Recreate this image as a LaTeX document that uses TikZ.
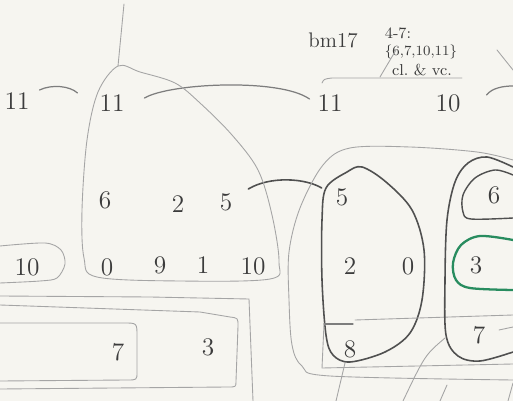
\documentclass[tikz,border=0pt]{standalone}
\usetikzlibrary{positioning}
\definecolor{paper}{RGB}{246,245,240}
\definecolor{pencildark}{RGB}{80,80,80}
\definecolor{pencilmid}{RGB}{125,125,125}
\definecolor{pencilfaint}{RGB}{165,165,165}
\definecolor{digitgray}{RGB}{60,60,60}
\definecolor{markgreen}{RGB}{40,140,95}

\tikzset{
  digit/.style={inner sep=1pt,text=digitgray,font=\Large},
  note/.style={inner sep=1pt,text=digitgray,font=\small},
  faintline/.style={draw=pencilfaint,line width=0.5pt,line cap=round},
  midline/.style={draw=pencilmid,line width=0.7pt,line cap=round},
  darkline/.style={draw=pencildark,line width=0.9pt,line cap=round},
  greenline/.style={draw=markgreen,line width=1.3pt},
}

\begin{document}
\begin{tikzpicture}[x=0.02cm,y=-0.02cm]
  \fill[paper] (0,0) rectangle (513,401);
  \useasboundingbox (0,0) rectangle (513,401);

  % top row
  \node[digit] (elevA) at (17,101) {11};
  \node[digit] (elevB) at (112,103) {11};
  \node[digit] (elevC) at (330,103) {11};
  \node[digit] (tenA) at (448,103) {10};

  % notes above the bracket
  \node[note,font=\large] (measure) at (333,40) {bm17};
  \node[note] (setname) at (398,33) {4-7:};
  \node[note,font=\footnotesize] (setpcs) at (421,52) {\{6,7,10,11\}};
  \node[note] (instr) at (422,70) {cl.\ \& vc.};

  % left cluster
  \node[digit] (sixA) at (105,200) {6};
  \node[digit] (twoA) at (178,204) {2};
  \node[digit] (fiveA) at (226,202) {5};
  \node[digit] (zeroA) at (107,267) {0};
  \node[digit] (nineA) at (160,265) {9};
  \node[digit] (oneA) at (203,265) {1};
  \node[digit] (tenB) at (253,266) {10};
  \node[digit] (tenL) at (27,267) {10};
  \node[digit] (sevenA) at (118,352) {7};
  \node[digit] (threeA) at (208,347) {3};

  % right cluster
  \node[digit] (fiveB) at (342,197) {5};
  \node[digit] (twoB) at (350,266) {2};
  \node[digit] (zeroB) at (408,266) {0};
  \node[digit] (eightB) at (350,349) {8};
  \node[digit] (sixB) at (494,195) {6};
  \node[digit] (threeB) at (476,265) {3};
  \node[digit] (sevenB) at (479,335) {7};

  % slurs between the elevens and the fives
  \draw[midline] ([shift={(8,-11)}]elevA.east) .. controls (52,84) and (70,86) .. ([shift={(-20,-10)}]elevB.west);
  \draw[midline] ([shift={(18,-5)}]elevB.east) .. controls (170,83) and (280,78) .. ([shift={(-6,-4)}]elevC.west);
  \coordinate (edgeR) at (513,86);
  \draw[midline] ([shift={(24,-8)}]tenA.east) .. controls (492,88) and (503,86) .. (edgeR);
  \draw[darkline] ([shift={(14,-13)}]fiveA.east) .. controls (270,176) and (305,178) .. ([shift={(-12,-9)}]fiveB.west);

  % bracket and ticks
  \draw[faintline] (322,83) .. controls (324,79) .. (332,78) -- (462,78);
  \draw[faintline] (380,77) -- (396,50);
  \draw[faintline] (497,50) -- (513,70);

  % big region round the left cluster
  \draw[faintline] (124,4) -- (118,66);
  \draw[faintline] plot[smooth cycle,tension=0.55] coordinates {
    (118,66) (98,92) (87,140) (82,210) (84,258) (97,277) (180,281)
    (270,279) (279,262) (272,215) (258,170) (232,135) (200,103) (175,83) (140,72)};

  % box round the left 10
  \draw[faintline] plot[smooth,tension=0.5] coordinates {
    (0,246) (45,243) (61,250) (65,264) (57,278) (40,281) (0,283)};

  % nested boxes at the lower left
  \draw[faintline] (0,296) -- (150,297) -- (249,299) -- (253,401);
  \draw[faintline] (0,305) -- (200,312) -- (230,317) .. controls (238,318) .. (238,326)
    -- (236,381) .. controls (236,387) .. (228,387) -- (0,389);
  \draw[faintline] (0,323) -- (124,323) .. controls (137,323) .. (137,336)
    -- (137,372) .. controls (137,380) .. (127,380) -- (0,381);

  % faint region round the right cluster
  \draw[faintline] plot[smooth,tension=0.55] coordinates {
    (513,380) (330,376) (302,366) (292,345) (289,300) (289,252) (300,208)
    (323,165) (350,148) (410,147) (477,152) (513,160)};

  % dark region round 5, 2, 0, 8
  \draw[darkline] plot[smooth cycle,tension=0.55] coordinates {
    (347,172) (362,167) (386,182) (412,210) (424,250) (422,300) (410,333)
    (385,352) (350,362) (333,355) (326,335) (322,280) (322,220) (326,188)};

  % box round the 8 and the rule across
  \draw[midline] (353,324) -- (324,324);
  \draw[faintline] (324,324) -- (322,368) -- (513,364);
  \draw[faintline] (355,320) -- (513,315);

  % dark region round 6, 3, 7
  \draw[darkline] plot[smooth,tension=0.55] coordinates {
    (513,167) (487,157) (468,163) (455,182) (447,220) (445,280) (446,335)
    (458,356) (480,361) (513,352)};
  \draw[darkline,line width=0.8pt] plot[smooth,tension=0.55] coordinates {
    (513,175) (495,170) (475,178) (463,195) (463,212) (471,219) (513,218)};
  \draw[greenline] plot[smooth,tension=0.55] coordinates {
    (513,240) (480,236) (461,245) (453,263) (456,280) (470,288) (513,290)};
  \draw[faintline] (499,330) -- (513,327);

  % strokes running off the bottom
  \draw[faintline] (345,363) -- (336,401);
  \draw[faintline] (445,338) .. controls (425,355) .. (403,401);
  \draw[faintline] (447,385) -- (440,401);
  \draw[faintline] (513,383) -- (508,401);
\end{tikzpicture}
\end{document}
